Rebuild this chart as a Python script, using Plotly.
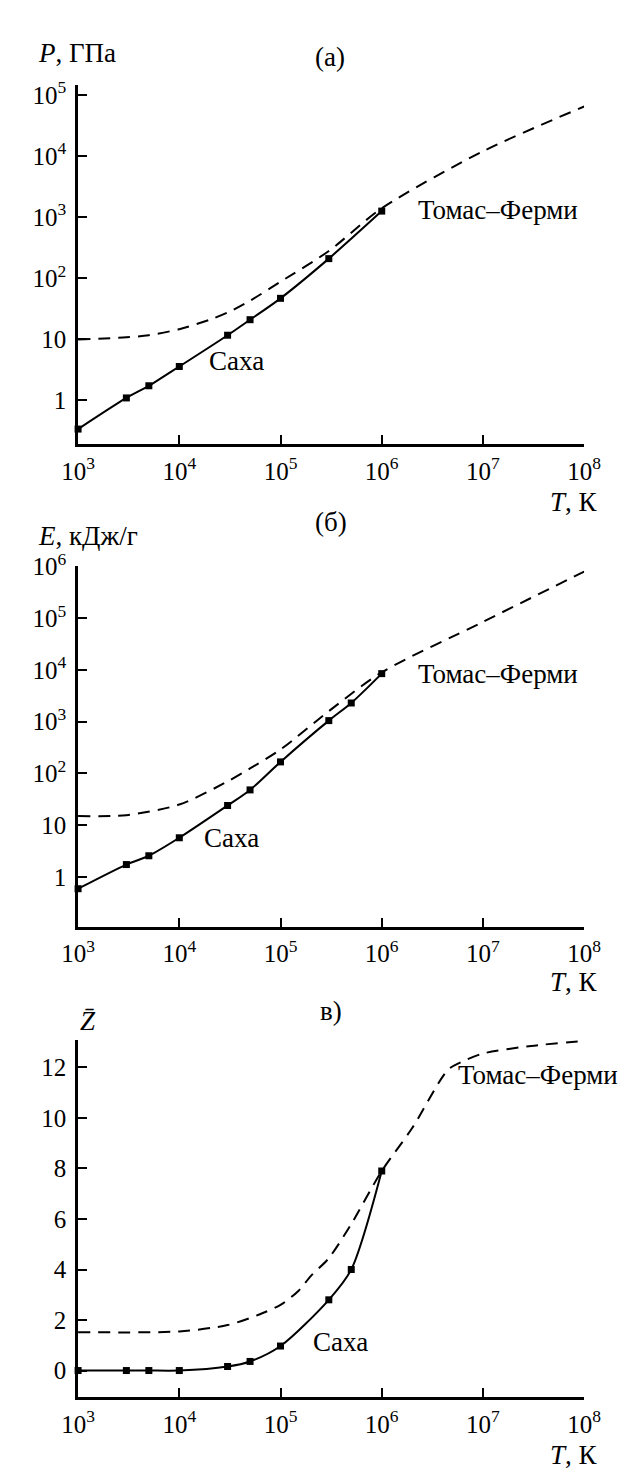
import plotly.graph_objects as go

W, H = 633, 1480

# ---- data ----
T_ticks = [1e3, 1e4, 1e5, 1e6, 1e7, 1e8]
T_ticktext = ["10<sup>3</sup>", "10<sup>4</sup>", "10<sup>5</sup>", "10<sup>6</sup>", "10<sup>7</sup>", "10<sup>8</sup>"]

P_ticks = [1, 10, 1e2, 1e3, 1e4, 1e5]
P_ticktext = ["1", "10", "10<sup>2</sup>", "10<sup>3</sup>", "10<sup>4</sup>", "10<sup>5</sup>"]
E_ticks = [1, 10, 1e2, 1e3, 1e4, 1e5, 1e6]
E_ticktext = ["1", "10", "10<sup>2</sup>", "10<sup>3</sup>", "10<sup>4</sup>", "10<sup>5</sup>", "10<sup>6</sup>"]
Z_ticks = [0, 2, 4, 6, 8, 10, 12]

# (a) pressure
T_saha_P = [1e3, 3e3, 5e3, 1e4, 3e4, 5e4, 1e5, 3e5, 1e6]
P_saha = [0.34, 1.1, 1.74, 3.6, 11.7, 21, 47, 210, 1260]
T_tf_P = [1e3, 3e3, 5e3, 1e4, 2e4, 3e4, 5e4, 1e5, 3e5, 1e6, 1e7, 1e8]
P_tf = [10, 10.8, 11.7, 14.7, 21, 27.5, 43, 88, 280, 1400, 12000, 65000]

# (б) energy
T_saha_E = [1e3, 3e3, 5e3, 1e4, 3e4, 5e4, 1e5, 3e5, 5e5, 1e6]
E_saha = [0.59, 1.73, 2.56, 5.7, 24, 48, 167, 1050, 2300, 8500]
T_tf_E = [1e3, 3e3, 1e4, 3e4, 5e4, 1e5, 3e5, 1e6, 1e7, 1e8]
E_tf = [15, 15.6, 25, 70, 125, 290, 1600, 9000, 85000, 800000]

# (в) mean ion charge
T_saha_Z = [1e3, 3e3, 5e3, 1e4, 3e4, 5e4, 1e5, 3e5, 5e5, 1e6]
Z_saha = [0, 0, 0, 0, 0.16, 0.36, 0.97, 2.8, 4.0, 7.9]
T_tf_Z = [1e3, 1e4, 3e4, 6e4, 1e5, 1.5e5, 2e5, 3e5, 5e5, 1e6, 2e6, 4.5e6, 6e6, 1e7, 3e7, 1e8]
Z_tf = [1.52, 1.55, 1.8, 2.2, 2.6, 3.15, 3.75, 4.45, 5.8, 7.9, 9.6, 11.9, 12.2, 12.55, 12.85, 13.05]

FONT = "Liberation Serif, Tinos, Times New Roman, DejaVu Serif, serif"


def px_x(x):
    return x / W


def px_y(y):
    return 1 - y / H


fig = go.Figure()

panels = [
    ("x", "y", T_saha_P, P_saha, T_tf_P, P_tf),
    ("x2", "y2", T_saha_E, E_saha, T_tf_E, E_tf),
    ("x3", "y3", T_saha_Z, Z_saha, T_tf_Z, Z_tf),
]
for xa, ya, ts, vs, tt, vt in panels:
    fig.add_trace(go.Scatter(x=tt, y=vt, xaxis=xa, yaxis=ya, mode="lines",
                             line=dict(color="black", width=2, dash="12px,8px",
                                       shape="spline", smoothing=0.8),
                             cliponaxis=False, showlegend=False, hoverinfo="skip"))
    fig.add_trace(go.Scatter(x=ts, y=vs, xaxis=xa, yaxis=ya, mode="lines+markers",
                             line=dict(color="black", width=2, shape="spline", smoothing=0.8),
                             marker=dict(symbol="square", size=7, color="black"),
                             cliponaxis=False, showlegend=False, hoverinfo="skip"))

axis_common = dict(showline=True, linecolor="black", linewidth=2.5, ticks="inside",
                   ticklen=9, tickwidth=2, tickcolor="black", showgrid=False,
                   zeroline=False, mirror=False,
                   tickfont=dict(family=FONT, size=25, color="black"))

xdom = [px_x(56), px_x(591)]
ydoms = [(61, 424), (547.3, 912), (1026.7, 1388)]

layout = dict(width=W, height=H, margin=dict(l=0, r=0, t=0, b=0),
              paper_bgcolor="white", plot_bgcolor="white", showlegend=False,
              font=dict(family=FONT, color="black"))

for i, (top, bot) in enumerate(ydoms):
    sfx = "" if i == 0 else str(i + 1)
    layout["xaxis" + sfx] = dict(axis_common, type="log", range=[2.999, 8.001], domain=xdom,
                                 tickvals=T_ticks, ticktext=T_ticktext,
                                 anchor="y" + sfx, ticklabelstandoff=3)
    ydom = [px_y(bot), px_y(top)]
    if i == 0:
        layout["yaxis"] = dict(axis_common, type="log", range=[-0.715, 5.16], domain=ydom,
                               tickvals=P_ticks, ticktext=P_ticktext, anchor="x",
                               ticklabelstandoff=4)
    elif i == 1:
        layout["yaxis2"] = dict(axis_common, type="log", range=[-0.96, 6.01], domain=ydom,
                                tickvals=E_ticks, ticktext=E_ticktext, anchor="x2",
                                ticklabelstandoff=4)
    else:
        layout["yaxis3"] = dict(axis_common, type="linear", range=[-1.05, 13.09], domain=ydom,
                                tickvals=Z_ticks, anchor="x3", ticklabelstandoff=4)

fig.update_layout(**layout)


def label(text, x, y, xanchor="left"):
    fig.add_annotation(text=text, xref="paper", yref="paper", x=px_x(x), y=px_y(y),
                       xanchor=xanchor, yanchor="middle", showarrow=False,
                       font=dict(family=FONT, size=27, color="black"))


label("<i>P</i>, ГПа", 12, 28)
label("(а)", 322, 32, "center")
label("Томас–Ферми", 413, 187)
label("Саха", 192, 340)
label("<i>T</i>, К", 608, 483, "right")

label("<i>E</i>, кДж/г", 12, 517)
label("(б)", 323, 503, "center")
label("Томас–Ферми", 413, 657)
label("Саха", 187, 822)
label("<i>T</i>, К", 608, 968, "right")

label("<i>Z̄</i>", 67, 1008, "center")
label("в)", 323, 997, "center")
label("Томас–Ферми", 455, 1062)
label("Саха", 302, 1332)
label("<i>T</i>, К", 608, 1447, "right")

fig.write_html("out.html")
